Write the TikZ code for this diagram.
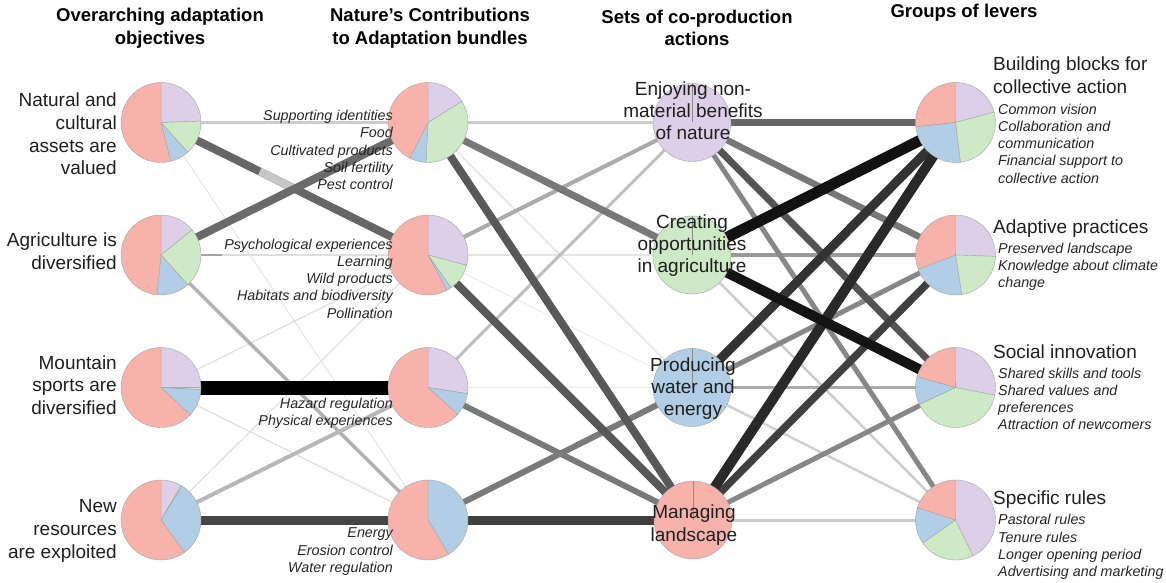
\documentclass[tikz,border=0pt]{standalone}
\usepackage{fontspec}
\setmainfont{Liberation Sans}
\usepackage{tikz}
\usetikzlibrary{calc}

\definecolor{salmon}{RGB}{248,178,172}
\definecolor{lilac}{RGB}{221,207,232}
\definecolor{mint}{RGB}{205,233,197}
\definecolor{sky}{RGB}{178,205,230}

\tikzset{
  link/.style={line width=#1},
  slice/.style={draw=black!35, line width=0.4},
  seam/.style={draw=black!45, line width=0.6},
  title/.style={font=\fontsize{18.5}{22.5}\selectfont\bfseries, align=center, inner sep=0},
  label/.style={font=\fontsize{19}{22.7}\selectfont, text=black!88, inner sep=0},
  detail/.style={font=\fontsize{14.3}{17.2}\selectfont\itshape, text=black!85, inner sep=0}
}

% pie: centre, then purple, green and blue angles (clockwise from top), pink is the rest
\newcommand{\pr}{40}
\newcommand{\drawpie}[4]{%
  \pgfmathsetmacro\angA{90-#2}%
  \pgfmathsetmacro\angB{\angA-#3}%
  \pgfmathsetmacro\angC{\angB-#4}%
  \filldraw[slice, fill=lilac] (#1) -- ++(90:\pr) arc[start angle=90, end angle=\angA, radius=\pr] -- cycle;
  \filldraw[slice, fill=mint] (#1) -- ++(\angA:\pr) arc[start angle=\angA, end angle=\angB, radius=\pr] -- cycle;
  \filldraw[slice, fill=sky] (#1) -- ++(\angB:\pr) arc[start angle=\angB, end angle=\angC, radius=\pr] -- cycle;
  \filldraw[slice, fill=salmon] (#1) -- ++(\angC:\pr) arc[start angle=\angC, end angle=-270, radius=\pr] -- cycle;
}

\begin{document}
\begin{tikzpicture}[x=1pt, y=1pt]
    \useasboundingbox (0,0) rectangle (1166,582);
    % Centres of the four columns
    \coordinate (obj1) at (161,459.5);
    \coordinate (obj2) at (161,327);
    \coordinate (obj3) at (161,194.5);
    \coordinate (obj4) at (161,62);
    \coordinate (nca1) at (428,459.5);
    \coordinate (nca2) at (428,327);
    \coordinate (nca3) at (428,194.5);
    \coordinate (nca4) at (428,62);
    \coordinate (act1) at (692,459.5);
    \coordinate (act2) at (692,327);
    \coordinate (act3) at (692,194.5);
    \coordinate (act4) at (693,62);
    \coordinate (lev1) at (955.5,459.5);
    \coordinate (lev2) at (955.5,327);
    \coordinate (lev3) at (955.5,194.5);
    \coordinate (lev4) at (955.5,62);

    % Titles
    \node[title] (tobj) at (160,554) {Overarching adaptation\\objectives};
    \node[title] (tnca) at (430,554) {Nature’s Contributions\\to Adaptation bundles};
    \node[title] (tact) at (697,554) {Sets of co-production\\actions};
    \node[title] (tlev) at (964,569) {Groups of levers};

    % Links objectives -- bundles
    \draw[link=1, black!10] (obj1) -- (nca4);
    \draw[link=1.2, black!12] (obj4) -- (nca2);
    \draw[link=1.2, black!13] (obj3) -- (nca2);
    \draw[link=1.2, black!13] (obj3) -- (nca4);
    \draw[link=2.5, black!13] (obj2) -- (nca2);
    \draw[link=2.5, black!35] (obj2) -- ($(obj2)!0.23!(nca2)$);
    \draw[link=3, black!20] (obj1) -- (nca1);
    \draw[link=3.5, black!30] (obj2) -- (nca4);
    \draw[link=4, black!28] (obj4) -- (nca3);
    \draw[link=8, black!60] (obj1) -- (nca2);
    \draw[link=8, black!22] ($(obj1)!0.37!(nca2)$) -- ($(obj1)!0.5!(nca2)$);
    \draw[link=8, black!58] (obj2) -- (nca1);
    \draw[link=9, black!73] (obj4) -- (nca4);
    \draw[link=14, black] (obj3) -- (nca3);

    % Links bundles -- actions
    \draw[link=1, black!7] (nca2) -- (act3);
    \draw[link=1.5, black!8] (nca3) -- (act3);
    \draw[link=1.5, black!10] (nca1) -- (act3);
    \draw[link=2, black!10] (nca2) -- (act2);
    \draw[link=3, black!20] (nca1) -- (act1);
    \draw[link=3, black!25] (nca3) -- (act1);
    \draw[link=4, black!33] (nca2) -- (act1);
    \draw[link=6, black!52] (nca3) -- (act4);
    \draw[link=6, black!52] (nca4) -- (act3);
    \draw[link=7, black!53] (nca1) -- (act2);
    \draw[link=8, black!65] (nca1) -- (act4);
    \draw[link=8, black!65] (nca2) -- (act4);
    \draw[link=9, black!75] (nca4) -- (act4);

    % Links actions -- levers
    \draw[link=2.5, black!20] (act2) -- (lev4);
    \draw[link=2.5, black!18] (act3) -- (lev4);
    \draw[link=3, black!20] (act4) -- (lev4);
    \draw[link=3.5, black!33] (act3) -- (lev3);
    \draw[link=4, black!40] (act2) -- (lev2);
    \draw[link=5, black!47] (act1) -- (lev4);
    \draw[link=5, black!47] (act3) -- (lev2);
    \draw[link=5, black!47] (act4) -- (lev3);
    \draw[link=6.5, black!53] (act1) -- (lev2);
    \draw[link=7, black!67] (act1) -- (lev3);
    \draw[link=7.5, black!60] (act1) -- (lev1);
    \draw[link=7.5, black!75] (act4) -- (lev2);
    \draw[link=9, black!80] (act3) -- (lev1);
    \draw[link=10, black!84] (act4) -- (lev1);
    \draw[link=10, black!92] (act2) -- (lev3);
    \draw[link=11, black!93] (act2) -- (lev1);

    % Pies of objectives, bundles and levers
    \drawpie{obj1}{88}{50}{28}
    \drawpie{obj2}{51}{87}{48}
    \drawpie{obj3}{90}{3}{40}
    \drawpie{obj4}{30}{2}{112}
    \drawpie{nca1}{58}{125}{24}
    \drawpie{nca2}{105}{40}{7}
    \drawpie{nca3}{99}{0}{33}
    \drawpie{nca4}{0}{0}{149}
    \drawpie{lev1}{75}{98}{91}
    \drawpie{lev2}{92}{79}{78}
    \drawpie{lev3}{101}{144}{41}
    \drawpie{lev4}{154}{81}{53}

    % Circles of actions
    \filldraw[slice, fill=lilac] (act1) circle[radius=39];
    \filldraw[slice, fill=mint] (act2) circle[radius=39];
    \filldraw[slice, fill=sky] (act3) circle[radius=39];
    \filldraw[slice, fill=salmon] (act4) circle[radius=39];
    \foreach \a in {act1,act2,act3,act4}
        \draw[seam] (\a) -- ++(0,39);

    % Objectives
    \node[label, anchor=east, align=right] (lobj1) at (117,448) {Natural and\\cultural\\assets are\\valued};
    \node[label, anchor=east, align=right] (lobj2) at (117,331) {Agriculture is\\diversified};
    \node[label, anchor=east, align=right] (lobj3) at (117,197) {Mountain\\sports are\\diversified};
    \node[label, anchor=east, align=right] (lobj4) at (117,51) {New\\resources\\are exploited};

    % Bundles
    \node[detail, anchor=east, align=right] (lnca1) at (393,432) {Supporting identities\\Food\\Cultivated products\\Soil fertility\\Pest control};
    \node[detail, anchor=east, align=right] (lnca2) at (393,303.5) {Psychological experiences\\Learning\\Wild products\\Habitats and biodiversity\\Pollination};
    \node[detail, anchor=east, align=right] (lnca3) at (393,169) {Hazard regulation\\Physical experiences};
    \node[detail, anchor=east, align=right] (lnca4) at (393,30.3) {Energy\\Erosion control\\Water regulation};

    % Actions
    \node[label, align=center, font=\fontsize{19}{22}\selectfont] (lact1) at (693,471.3) {Enjoying non-\\material benefits\\of nature};
    \node[label, align=center, font=\fontsize{19}{22}\selectfont] (lact2) at (692,336.7) {Creating\\opportunities\\in agriculture};
    \node[label, align=center, font=\fontsize{19}{22}\selectfont] (lact3) at (693,193) {Producing\\water and\\energy};
    \node[label, align=center, font=\fontsize{19}{23}\selectfont] (lact4) at (694,57) {Managing\\landscape};

    % Levers
    \node[label, anchor=west, align=left] (llev1) at (993,507) {Building blocks for\\collective action};
    \node[detail, anchor=west, align=left] (dlev1) at (998,438.5) {Common vision\\Collaboration and\\communication\\Financial support to\\collective action};
    \node[label, anchor=west, align=left] (llev2) at (993,353) {Adaptive practices};
    \node[detail, anchor=west, align=left] (dlev2) at (998,315) {Preserved landscape\\Knowledge about climate\\change};
    \node[label, anchor=west, align=left] (llev3) at (993,230) {Social innovation};
    \node[detail, anchor=west, align=left] (dlev3) at (998,183) {Shared skills and tools\\Shared values and\\preferences\\Attraction of newcomers};
    \node[label, anchor=west, align=left] (llev4) at (993,82) {Specific rules};
    \node[detail, anchor=west, align=left] (dlev4) at (998,35) {Pastoral rules\\Tenure rules\\Longer opening period\\Advertising and marketing};
\end{tikzpicture}
\end{document}
